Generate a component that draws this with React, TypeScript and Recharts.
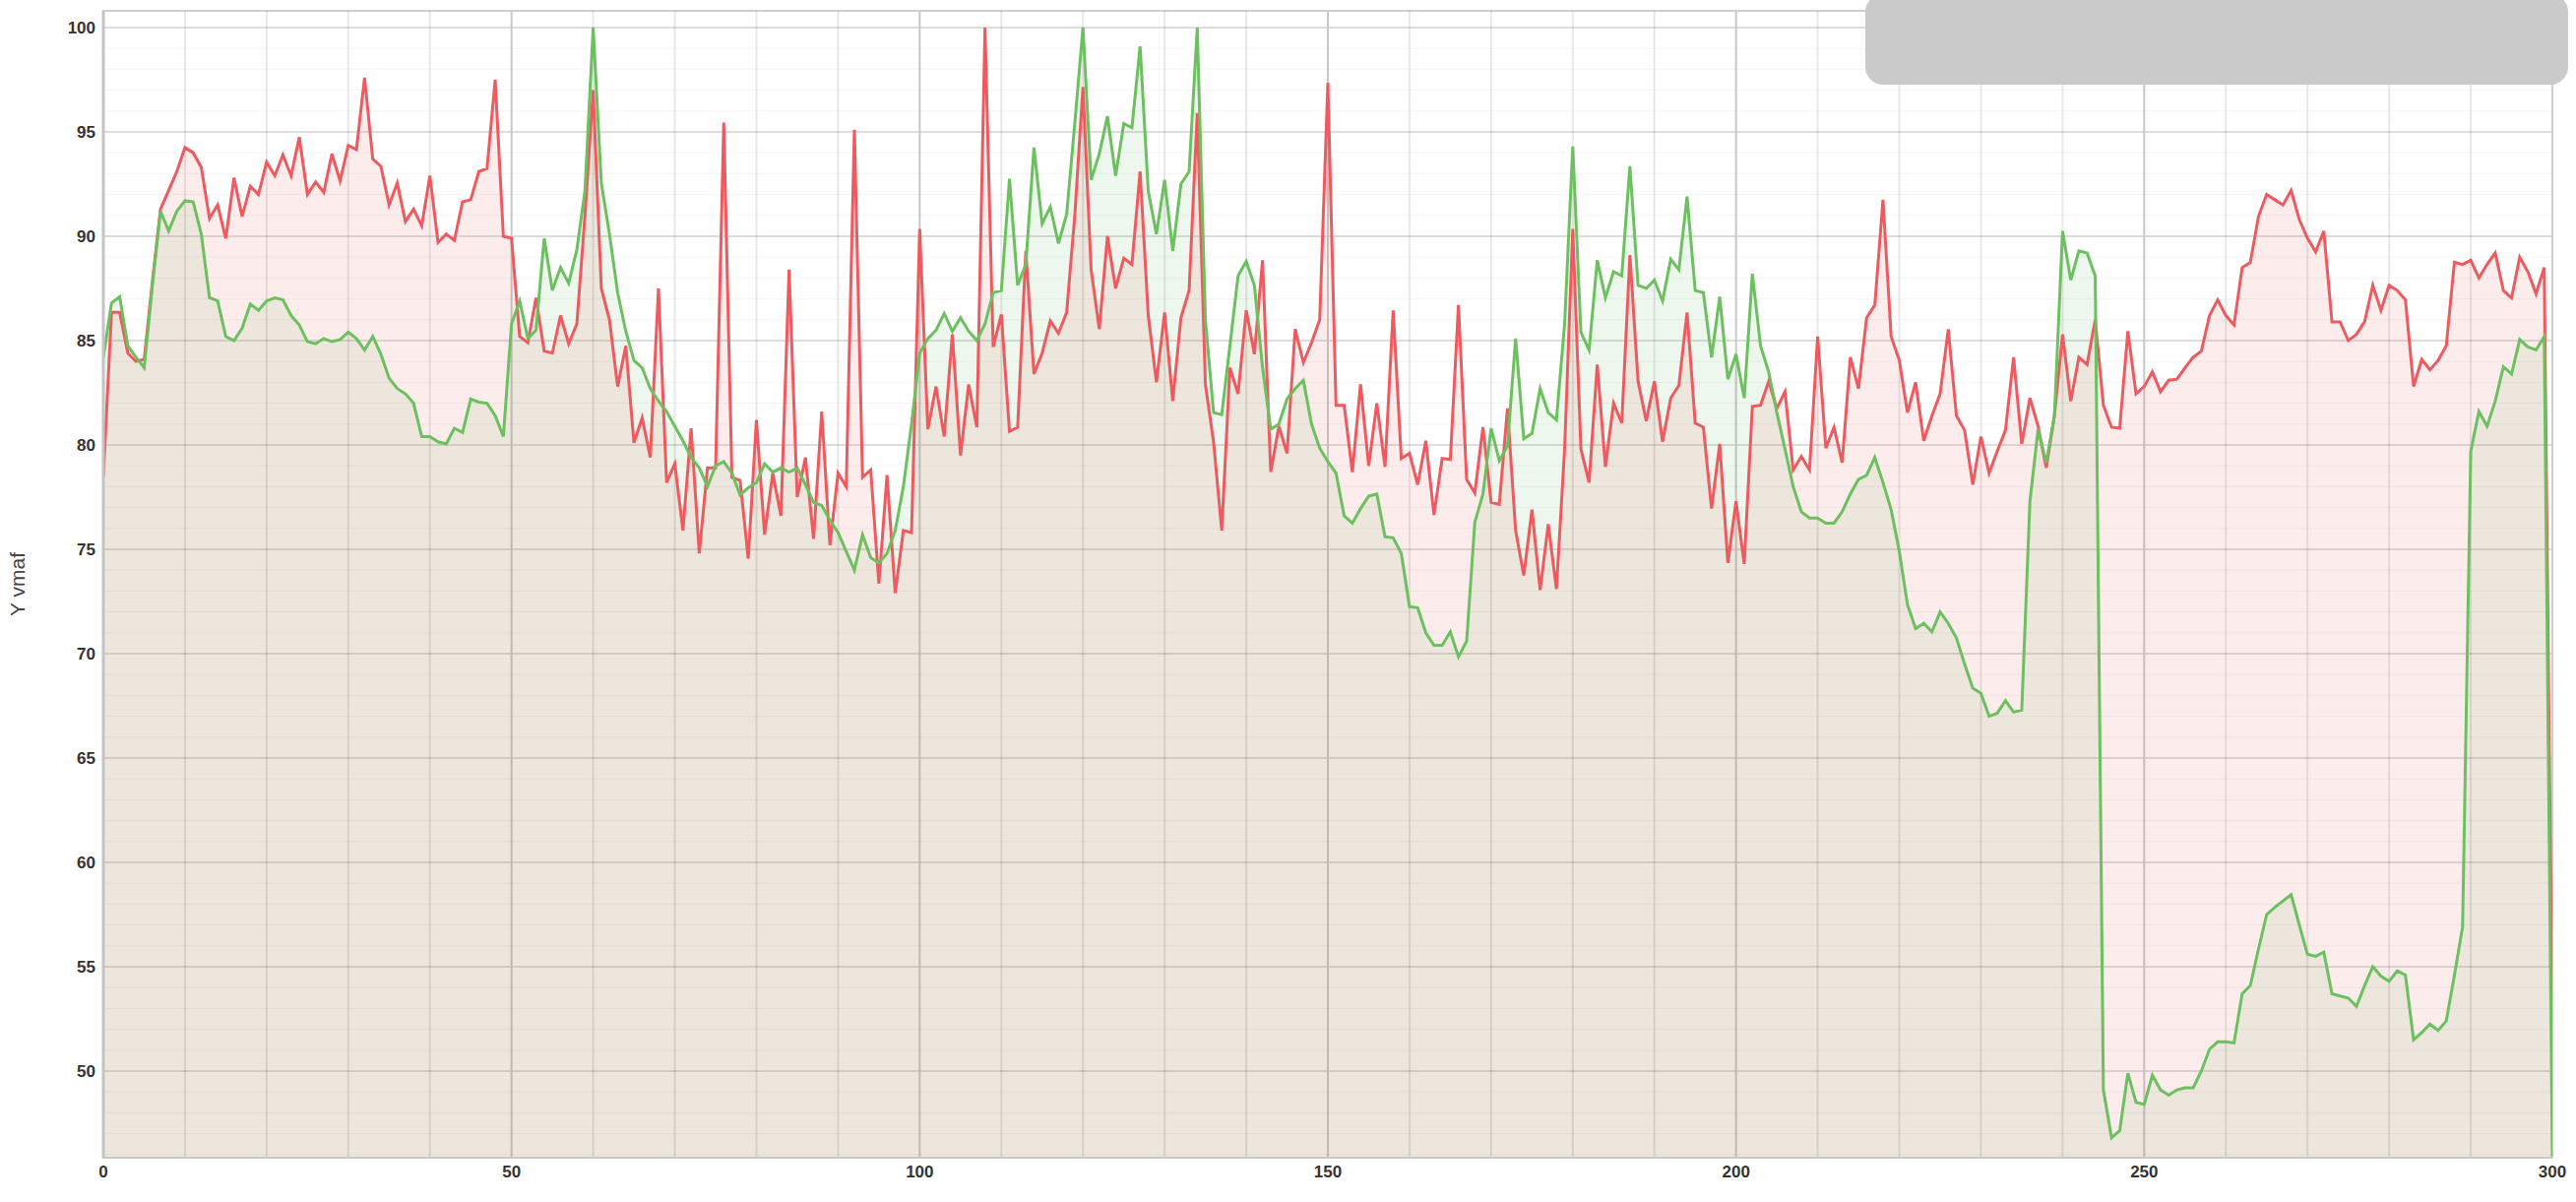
import React from 'react';
import { ComposedChart, Area, Line, XAxis, YAxis, CartesianGrid, ReferenceArea, ReferenceLine } from 'recharts';

// VMAF per frame (frame index = position in array, 0..300)
const redVmaf = [
  78.5, 86.35, 86.35, 84.4, 84.0, 84.1, 87.8, 91.3, 92.2, 93.1,
  94.25, 94.0, 93.3, 90.85, 91.5, 89.9, 92.8, 90.95, 92.4, 92.0,
  93.55, 92.9, 93.9, 92.9, 94.75, 92.0, 92.6, 92.1, 93.95, 92.65,
  94.35, 94.15, 97.6, 93.7, 93.35, 91.5, 92.55, 90.7, 91.3, 90.5,
  92.9, 89.7, 90.1, 89.8, 91.65, 91.75, 93.1, 93.25, 97.5, 90.0,
  89.9, 85.2, 84.9, 87.05, 84.5, 84.4, 86.2, 84.85, 85.8, 91.0,
  97.0, 87.5, 86.0, 82.8, 84.75, 80.1, 81.3, 79.4, 87.5, 78.2,
  79.1, 75.9, 80.8, 74.8, 78.9, 78.9, 95.45, 78.45, 78.3, 74.55,
  81.2, 75.7, 78.65, 76.6, 88.4, 77.5, 79.4, 75.5, 81.6, 75.2,
  78.65, 78.0, 95.1, 78.45, 78.8, 73.35, 78.55, 72.9, 75.9, 75.8,
  90.35, 80.75, 82.8, 80.4, 85.3, 79.5, 82.9, 80.85, 100, 84.7,
  86.25, 80.65, 80.85, 89.3, 83.4, 84.4, 85.95, 85.35, 86.35, 91.0,
  97.15, 88.4, 85.55, 90.0, 87.5, 88.95, 88.65, 93.1, 86.2, 83.0,
  86.35, 82.1, 86.1, 87.4, 95.9, 82.9, 80.15, 75.9, 83.7, 82.45,
  86.45, 84.35, 88.85, 78.7, 80.9, 79.6, 85.55, 83.95, 84.9, 86.0,
  97.35, 81.9, 81.9, 78.7, 82.9, 79.0, 82.0, 78.95, 86.45, 79.35,
  79.6, 78.1, 80.2, 76.65, 79.35, 79.3, 86.7, 78.35, 77.7, 80.85,
  77.25, 77.15, 81.75, 75.9, 73.75, 76.9, 73.05, 76.2, 73.1, 79.8,
  90.35, 79.8, 78.2, 83.85, 78.95, 82.0, 81.05, 89.1, 83.05, 81.15,
  83.05, 80.15, 82.25, 82.85, 86.35, 81.05, 80.85, 76.95, 80.05, 74.35,
  77.3, 74.3, 81.85, 81.9, 83.05, 81.75, 82.55, 78.8, 79.45, 78.8,
  85.2, 79.85, 80.85, 79.15, 84.2, 82.7, 86.1, 86.7, 91.75, 85.2,
  84.05, 81.55, 83.0, 80.2, 81.4, 82.45, 85.55, 81.4, 80.7, 78.1,
  80.4, 78.65, 79.7, 80.7, 84.2, 80.05, 82.25, 80.9, 78.9, 81.4,
  85.3, 82.1, 84.2, 83.85, 86.0, 81.9, 80.85, 80.8, 85.45, 82.45,
  82.8, 83.5, 82.55, 83.1, 83.15, 83.7, 84.2, 84.5, 86.2, 86.95,
  86.2, 85.75, 88.5, 88.75, 90.95, 92.0, 91.75, 91.5, 92.2, 90.8,
  89.9, 89.25, 90.25, 85.9, 85.9, 85.0, 85.3, 85.9, 87.65, 86.45,
  87.65, 87.4, 86.95, 82.8, 84.1, 83.6, 84.05, 84.75, 88.75, 88.65,
  88.85, 88.0, 88.65, 89.2, 87.4, 87.05, 89.0, 88.3, 87.25, 88.5,
  51.5,
];

const greenVmaf = [
  84.2, 86.8, 87.1, 84.75, 84.2, 83.7, 87.6, 91.2, 90.25, 91.2,
  91.7, 91.65, 90.1, 87.05, 86.9, 85.2, 85.0, 85.6, 86.75, 86.45,
  86.9, 87.05, 86.95, 86.2, 85.75, 84.95, 84.85, 85.1, 84.95, 85.05,
  85.4, 85.1, 84.55, 85.2, 84.35, 83.2, 82.7, 82.45, 82.0, 80.4,
  80.4, 80.15, 80.05, 80.8, 80.6, 82.2, 82.05, 82.0, 81.4, 80.4,
  85.8, 86.9, 85.1, 85.5, 89.9, 87.4, 88.5, 87.75, 89.35, 92.2,
  100, 92.55, 90.1, 87.3, 85.45, 84.05, 83.7, 82.7, 82.1, 81.6,
  80.9, 80.2, 79.4, 78.9, 78.0, 79.0, 79.2, 78.65, 77.6, 77.95,
  78.2, 79.1, 78.7, 78.9, 78.7, 78.9, 78.1, 77.25, 77.1, 76.4,
  75.8, 74.9, 74.0, 75.7, 74.6, 74.35, 74.8, 75.9, 78.0, 81.0,
  84.4, 85.1, 85.5, 86.3, 85.45, 86.1, 85.45, 85.0, 85.8, 87.3,
  87.4, 92.75, 87.65, 88.65, 94.25, 90.6, 91.4, 89.65, 91.05, 95.4,
  100, 92.7, 93.95, 95.75, 92.9, 95.4, 95.2, 99.1, 92.15, 90.1,
  92.7, 89.3, 92.5, 93.1, 100, 86.0, 81.55, 81.45, 84.75, 88.1,
  88.8, 87.65, 83.7, 80.75, 81.0, 82.2, 82.7, 83.1, 81.0, 79.85,
  79.2, 78.65, 76.6, 76.25, 76.95, 77.55, 77.65, 75.6, 75.55, 74.8,
  72.25, 72.2, 71.0, 70.4, 70.4, 71.05, 69.85, 70.6, 76.3, 77.65,
  80.8, 79.25, 79.95, 85.1, 80.3, 80.55, 82.7, 81.55, 81.2, 85.8,
  94.3, 85.4, 84.55, 88.85, 87.05, 88.3, 88.1, 93.35, 87.65, 87.5,
  87.9, 86.9, 88.9, 88.4, 91.9, 87.4, 87.3, 84.2, 87.1, 83.15,
  84.35, 82.25, 88.2, 84.75, 83.5, 81.55, 79.8, 78.0, 76.8, 76.5,
  76.5, 76.25, 76.25, 76.8, 77.65, 78.35, 78.55, 79.4, 78.2, 76.9,
  74.9, 72.35, 71.2, 71.45, 71.05, 72.0, 71.45, 70.75, 69.5, 68.35,
  68.1, 67.0, 67.15, 67.75, 67.2, 67.3, 77.3, 80.75, 79.15, 81.4,
  90.25, 87.9, 89.3, 89.2, 88.1, 49.1, 46.8, 47.15, 49.9, 48.5,
  48.4, 49.8, 49.1, 48.85, 49.1, 49.2, 49.2, 50.0, 51.05, 51.4,
  51.4, 51.35, 53.7, 54.1, 55.85, 57.5, 57.85, 58.15, 58.45, 57.0,
  55.6, 55.5, 55.7, 53.7, 53.6, 53.5, 53.1, 54.1, 55.0, 54.55,
  54.3, 54.8, 54.6, 51.5, 51.85, 52.25, 51.95, 52.4, 54.6, 56.9,
  79.7, 81.6, 80.9, 82.1, 83.75, 83.4, 85.05, 84.7, 84.55, 85.2,
  45.9,
];

const xTicks = [0, 50, 100, 150, 200, 250, 300];
const xMinorTicks = [10, 20, 30, 40, 60, 70, 80, 90, 110, 120, 130, 140, 160, 170, 180, 190, 210, 220, 230, 240, 260, 270, 280, 290];
const yTicks = [50, 55, 60, 65, 70, 75, 80, 85, 90, 95, 100];
const yMinorTicks = [46, 47, 48, 49, 51, 52, 53, 54, 56, 57, 58, 59, 61, 62, 63, 64, 66, 67, 68, 69, 71, 72, 73, 74, 76, 77, 78, 79, 81, 82, 83, 84, 86, 87, 88, 89, 91, 92, 93, 94, 96, 97, 98, 99];
const xDomain = [0, 300];
const yDomain = [45.85, 100.8];
const yTitle = 'Y vmaf';

const data = redVmaf.map((r, i) => ({ frame: i, red: r, green: greenVmaf[i] }));

const tickStyle = { fontFamily: '"Liberation Sans", Arial, sans-serif', fontWeight: 700, fontSize: 17, fill: '#333' };

const YTitle = (props: any) => {
  const vb = props.viewBox || { x: 0, y: 0, width: 0, height: 0 };
  const cx = vb.x + 17;
  const cy = vb.y + vb.height / 2;
  return (
    <text
      x={cx}
      y={cy}
      transform={`rotate(-90 ${cx} ${cy})`}
      textAnchor="middle"
      dominantBaseline="central"
      style={{ fontFamily: '"Liberation Sans", Arial, sans-serif', fontSize: 21, fill: '#444' }}
    >
      {yTitle}
    </text>
  );
};

export default function App() {
  return (
    <div style={{ position: 'absolute', left: 0, top: 0, width: 2617, height: 1221, background: '#fff', overflow: 'hidden' }}>
      <ComposedChart width={2617} height={1221} data={data} margin={{ top: 11, right: 24, bottom: 0, left: 0 }}>
        <XAxis
          type="number"
          dataKey="frame"
          domain={xDomain}
          ticks={xTicks}
          height={45}
          tick={tickStyle}
          tickLine={false}
          axisLine={{ stroke: '#c8c8c8', strokeWidth: 2 }}
          allowDataOverflow
          interval={0}
        />
        <YAxis
          type="number"
          domain={yDomain}
          ticks={yTicks}
          width={105}
          tick={tickStyle}
          tickLine={false}
          axisLine={{ stroke: '#c4c4c4', strokeWidth: 3 }}
          allowDataOverflow
          interval={0}
          label={{ content: YTitle }}
        />
        {yMinorTicks.map((v) => (
          <ReferenceLine key={`hy${v}`} y={v} stroke="#000" strokeOpacity={0.045} strokeWidth={1} />
        ))}
        {xMinorTicks.map((v) => (
          <ReferenceLine key={`vx${v}`} x={v} stroke="#000" strokeOpacity={0.09} strokeWidth={2} />
        ))}
        <CartesianGrid vertical={false} stroke="#d2d2d2" strokeWidth={1.5} />
        <CartesianGrid horizontal={false} stroke="#c8c8c8" strokeWidth={2} />
        <ReferenceArea x1={xDomain[0]} x2={xDomain[1]} y1={yDomain[0]} y2={yDomain[1]} fill="none" stroke="#cfcfcf" strokeWidth={2} />
        <Area type="linear" dataKey="red" stroke="none" fill="#f06464" fillOpacity={0.12} isAnimationActive={false} dot={false} activeDot={false} />
        <Area type="linear" dataKey="green" stroke="none" fill="#5ab450" fillOpacity={0.1} isAnimationActive={false} dot={false} activeDot={false} />
        <Line type="linear" dataKey="red" stroke="#ee5a5f" strokeWidth={3} dot={false} activeDot={false} isAnimationActive={false} />
        <Line type="linear" dataKey="green" stroke="#6cc05f" strokeWidth={3} dot={false} activeDot={false} isAnimationActive={false} />
      </ComposedChart>
      <div style={{ position: 'absolute', left: 1895, top: -6, width: 714, height: 92, background: '#cacaca', borderRadius: 18 }} />
    </div>
  );
}
